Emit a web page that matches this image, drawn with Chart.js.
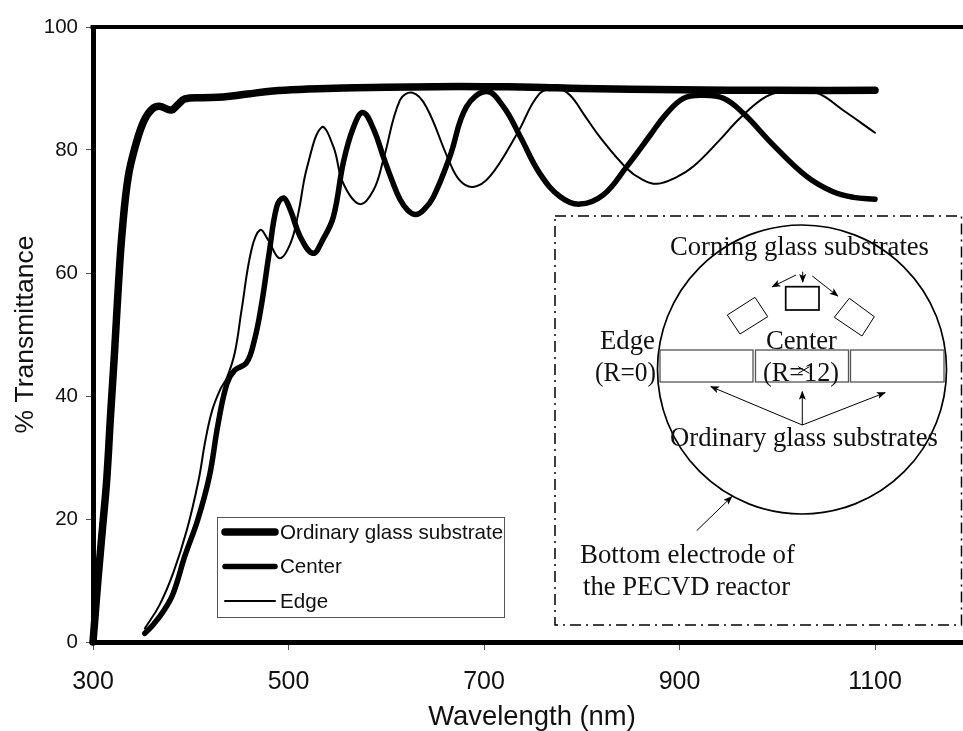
<!DOCTYPE html>
<html>
<head>
<meta charset="utf-8">
<title>% Transmittance</title>
<script src="https://cdn.jsdelivr.net/npm/chart.js@4/dist/chart.umd.min.js"></script>
<style>
html, body { margin: 0; padding: 0; background: #fff; overflow: hidden; }
#wrap { position: relative; width: 963px; height: 731px; }
#chart, #inset { position: absolute; left: 0; top: 0; }
#inset text { font-family: "Liberation Serif", serif; font-size: 27px; fill: #111; }
</style>
</head>
<body>
<div id="wrap">
<canvas id="chart" width="963" height="731"></canvas>
<svg id="inset" width="963" height="731">
    <defs>
        <marker id="head" markerWidth="9" markerHeight="7" refX="8" refY="3.5" orient="auto">
            <path d="M0,0 L9,3.5 L0,7 L2,3.5 Z" fill="#000"></path>
        </marker>
    </defs>
    <rect x="555" y="216" width="406.5" height="409" fill="none" stroke="#000" stroke-width="1.5" stroke-dasharray="11,5,2,5"></rect>
    <circle cx="802" cy="369.5" r="144.5" fill="none" stroke="#000" stroke-width="1.7"></circle>
    <g fill="none" stroke="#555" stroke-width="1.3">
        <rect x="660" y="350" width="93" height="32"></rect>
        <rect x="755.5" y="350" width="93" height="32"></rect>
        <rect x="850.5" y="350" width="93.5" height="32"></rect>
    </g>
    <rect x="785.7" y="286.7" width="33.3" height="23.3" fill="none" stroke="#000" stroke-width="1.7"></rect>
    <polygon points="727.3,315 755,297.3 767.7,316.7 740,334" fill="none" stroke="#000"></polygon>
    <polygon points="834.3,317.3 849.3,298.3 874.3,316.7 862,336" fill="none" stroke="#000"></polygon>
    <g stroke="#000" stroke-width="1" fill="none" marker-end="url(#head)">
        <line x1="802.7" y1="271.7" x2="802.7" y2="282"></line>
        <line x1="796" y1="275" x2="772.3" y2="286.7"></line>
        <line x1="812.3" y1="276" x2="837.7" y2="296"></line>
        <line x1="802.3" y1="425" x2="711" y2="386.7"></line>
        <line x1="802.3" y1="425" x2="802.3" y2="391.7"></line>
        <line x1="802.3" y1="425" x2="885" y2="392.7"></line>
        <line x1="696.7" y1="530.7" x2="731.7" y2="496.7"></line>
    </g>
    <text x="670" y="255" textLength="259" lengthAdjust="spacingAndGlyphs">Corning glass substrates</text>
    <text x="600" y="349" textLength="55" lengthAdjust="spacingAndGlyphs">Edge</text>
    <text x="595" y="381" textLength="61" lengthAdjust="spacingAndGlyphs">(R=0)</text>
    <text x="766" y="349" textLength="71" lengthAdjust="spacingAndGlyphs">Center</text>
    <text x="763" y="381" textLength="76" lengthAdjust="spacingAndGlyphs">(R=12)</text>
    <g stroke="#000" stroke-width="1">
        <line x1="798.3" y1="373.3" x2="809.3" y2="366.7"></line>
        <line x1="798.3" y1="366.7" x2="809.3" y2="373.3"></line>
    </g>
    <text x="670" y="446" textLength="268" lengthAdjust="spacingAndGlyphs">Ordinary glass substrates</text>
    <text x="580" y="563" textLength="215" lengthAdjust="spacingAndGlyphs">Bottom electrode of</text>
    <text x="583" y="595" textLength="207" lengthAdjust="spacingAndGlyphs">the PECVD reactor</text>
</svg>
</div>
<script>
const ordinaryX = [300, 302, 305, 310, 314, 318, 322, 326, 330, 336, 344, 352, 360, 368, 380, 387, 394, 412, 433, 458, 484, 520, 556, 600, 650, 700, 750, 800, 900, 1000, 1100];
const ordinaryY = [0, 4, 10, 19, 26.3, 37, 47, 58, 67, 75.6, 81, 84.7, 86.6, 87.1, 86.5, 87.4, 88.3, 88.5, 88.6, 89.1, 89.6, 89.9, 90.1, 90.2, 90.3, 90.3, 90.2, 90, 89.8, 89.7, 89.7];

const centerX = [353, 362, 372, 382, 394, 407, 419, 428, 437, 445, 457, 465, 472, 480, 488, 495, 502, 512, 525, 535, 546, 556, 566, 576, 587, 597, 606, 614, 622, 630, 638, 648, 665, 682, 703, 720, 737, 757, 778, 798, 822, 846, 870, 885, 904, 924, 945, 965, 996, 1030, 1057, 1078, 1100];
const centerY = [1.4, 2.9, 5, 7.9, 14, 19.8, 26.9, 35.5, 42, 44.2, 45.4, 49, 54.5, 63, 70.8, 72.2, 70.2, 65.9, 63.2, 65.4, 69.2, 77.9, 83.5, 86.1, 83.4, 78.9, 75, 72, 70.2, 69.5, 70.2, 72.3, 78.9, 87, 89.5, 87, 82.2, 76.2, 72.4, 71.2, 72.7, 77.3, 82.4, 85.6, 88.4, 88.9, 88.4, 86, 80.8, 75.7, 73.2, 72.3, 72];

const edgeX = [353, 368, 382, 396, 408, 415, 422, 430, 437, 445, 452, 462, 471, 479, 491, 502, 510, 519, 534, 546, 556, 573, 587, 597, 614, 627, 641, 663, 675, 689, 706, 734, 757, 775, 788, 803, 819, 846, 862, 877, 897, 914, 941, 962, 989, 1010, 1040, 1067, 1100];
const edgeY = [2.2, 6, 11.2, 18.2, 26.3, 32.8, 37.7, 41, 43, 47, 54, 63.7, 67, 65.4, 62.4, 64.8, 69.7, 77.2, 83.7, 80.5, 74.6, 71.2, 73.5, 78.4, 88.1, 89.3, 87, 78.7, 75.1, 74, 75.7, 82.7, 89.2, 90, 88.9, 85.6, 82, 77, 75.2, 74.5, 75.6, 77.3, 81.6, 85.2, 88.7, 89.5, 89.3, 86.5, 82.8];

const seriesNames = ["Ordinary glass substrate", "Center", "Edge"];
const xTicks = [300, 500, 700, 900, 1100];
const yTicks = [0, 20, 40, 60, 80, 100];

function toPoints(xs, ys) {
    return xs.map(function (x, i) {
        return { x: x, y: ys[i] };
    });
}

function lineSet(name, xs, ys, width) {
    return {
        label: name,
        data: toPoints(xs, ys),
        borderColor: "#000",
        borderWidth: width,
        borderCapStyle: "round",
        borderJoinStyle: "round",
        pointRadius: 0,
        tension: 0.4,
        clip: false
    };
}

// top frame line, x title and the boxed legend, all on the chart canvas
const frameAndLegend = {
    id: "frameAndLegend",
    afterDraw: function (chart) {
        let ctx = chart.ctx;
        let area = chart.chartArea;
        ctx.save();
        ctx.strokeStyle = "#000";
        ctx.lineWidth = 4;
        ctx.beginPath();
        ctx.moveTo(area.left - 2.5, area.top);
        ctx.lineTo(area.right, area.top);
        ctx.stroke();

        ctx.fillStyle = "#111";
        ctx.font = "27.4px 'Liberation Sans', Arial, sans-serif";
        ctx.textAlign = "center";
        ctx.fillText("Wavelength (nm)", 532, 725);
        ctx.textAlign = "left";

        ctx.lineWidth = 1;
        ctx.strokeStyle = "#555";
        ctx.strokeRect(217.5, 517.5, 287, 100);
        ctx.font = "20.6px 'Liberation Sans', Arial, sans-serif";
        ctx.textBaseline = "middle";
        ctx.lineCap = "round";
        ctx.strokeStyle = "#000";
        chart.data.datasets.forEach(function (set, i) {
            let rowY = 532 + i * 34.5;
            ctx.lineWidth = set.borderWidth;
            ctx.beginPath();
            ctx.moveTo(225, rowY);
            ctx.lineTo(275, rowY);
            ctx.stroke();
            ctx.fillText(set.label, 280, rowY + 1);
        });
        ctx.restore();
    }
};

let chart = new Chart(document.getElementById("chart"), {
    type: "line",
    data: {
        datasets: [
            lineSet(seriesNames[0], ordinaryX, ordinaryY, 7.5),
            lineSet(seriesNames[1], centerX, centerY, 5.5),
            lineSet(seriesNames[2], edgeX, edgeY, 2)
        ]
    },
    options: {
        responsive: false,
        animation: false,
        devicePixelRatio: 1,
        layout: { padding: { top: 27, right: 0, left: 0, bottom: 0 } },
        plugins: {
            legend: { display: false },
            tooltip: { enabled: false }
        },
        scales: {
            x: {
                type: "linear",
                min: 300,
                max: 1190,
                afterFit: function (scale) { scale.height = 89; },
                afterBuildTicks: function (scale) {
                    scale.ticks = xTicks.map(function (v) { return { value: v }; });
                },
                border: { color: "#000", width: 5 },
                grid: { drawOnChartArea: false, drawTicks: true, tickLength: 8, tickColor: "#555" },
                ticks: {
                    color: "#111",
                    padding: 17,
                    maxRotation: 0,
                    autoSkip: false,
                    callback: function (v) { return String(v); },
                    font: { family: "'Liberation Sans', Arial, sans-serif", size: 25 }
                }
            },
            y: {
                min: 0,
                max: 100,
                afterFit: function (scale) { scale.width = 93; },
                afterBuildTicks: function (scale) {
                    scale.ticks = yTicks.map(function (v) { return { value: v }; });
                },
                border: { color: "#000", width: 5 },
                grid: { drawOnChartArea: false, drawTicks: true, tickLength: 7, tickColor: "#555" },
                ticks: {
                    color: "#111",
                    padding: 8,
                    font: { family: "'Liberation Sans', Arial, sans-serif", size: 20.5 }
                },
                title: {
                    display: true,
                    text: "% Transmittance",
                    color: "#111",
                    padding: { top: 10, bottom: 0 },
                    font: { family: "'Liberation Sans', Arial, sans-serif", size: 26.5 }
                }
            }
        }
    },
    plugins: [frameAndLegend]
});
</script>
</body>
</html>
